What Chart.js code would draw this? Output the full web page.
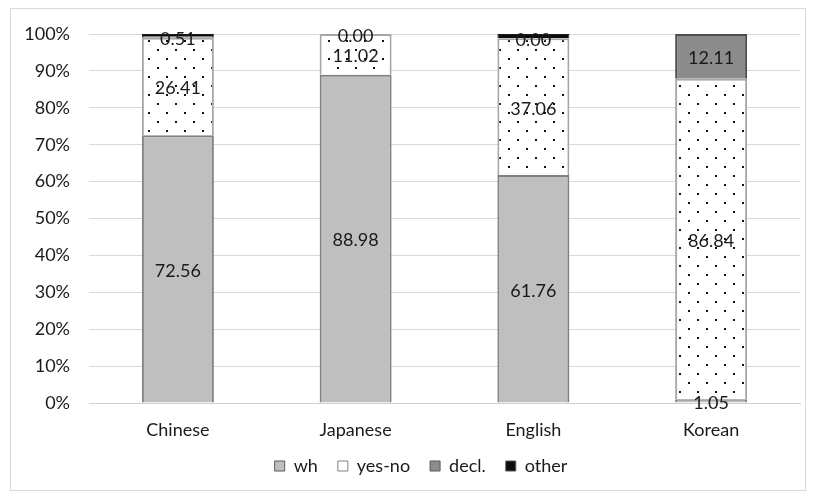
<!DOCTYPE html>
<html>
<head>
<meta charset="utf-8">
<script src="https://cdn.jsdelivr.net/npm/chart.js@4/dist/chart.umd.min.js"></script>
<style>
  html, body { margin: 0; padding: 0; background: #ffffff; }
  canvas { display: block; }
</style>
</head>
<body>
<canvas id="chart" width="815" height="501"></canvas>
<script>
// Languages along the x axis
const languages = ['Chinese', 'Japanese', 'English', 'Korean'];

// Share of each question type (percent)
const whValues     = [72.56, 88.98, 61.76, 1.05];
const yesNoValues  = [26.41, 11.02, 37.06, 86.84];
const declValues   = [0.51, 0.00, 0.00, 12.11];
const otherValues  = [0.52, 0.00, 1.18, 0.00];

// Y axis tick values
const yTicks = [0, 10, 20, 30, 40, 50, 60, 70, 80, 90, 100];

const FONT = 'Lato, "Open Sans", sans-serif';
const FONT_SIZE = 18;

// Dotted fill for the yes-no segments
function makeDots() {
  const c = document.createElement('canvas');
  c.width = 18; c.height = 18;
  const g = c.getContext('2d');
  g.fillStyle = '#ffffff';
  g.fillRect(0, 0, 18, 18);
  g.fillStyle = '#111111';
  g.fillRect(4, 4, 2, 2);
  g.fillRect(13, 13, 2, 2);
  return g.createPattern(c, 'repeat');
}
const ctx = document.getElementById('chart').getContext('2d');
const dots = makeDots();

// Outer frame around the whole chart
const framePlugin = {
  id: 'frame',
  beforeDraw(chart) {
    const c = chart.ctx;
    c.save();
    c.fillStyle = '#ffffff';
    c.fillRect(0, 0, chart.width, chart.height);
    c.strokeStyle = '#d9d9d9';
    c.lineWidth = 1;
    c.strokeRect(10.5, 8.5, 795, 482);
    c.restore();
  }
};

// Nudge the legend row right of the canvas centre and a little upward
const legendShift = {
  id: 'legendShift',
  afterLayout(chart) {
    const lg = chart.legend;
    if (lg) {
      lg.left += 21; lg.right += 21;
      lg.top -= 6; lg.bottom -= 6;
    }
  }
};

// Value labels centred in each labelled segment
const valueLabels = {
  id: 'valueLabels',
  afterDatasetsDraw(chart) {
    const c = chart.ctx;
    c.save();
    c.font = FONT_SIZE + 'px ' + FONT;
    c.fillStyle = '#1a1a1a';
    c.textAlign = 'center';
    c.textBaseline = 'middle';
    chart.data.datasets.forEach((ds, i) => {
      if (!ds.showValues) return;
      const meta = chart.getDatasetMeta(i);
      meta.data.forEach((bar, j) => {
        const v = ds.data[j];
        const y = (bar.y + bar.base) / 2;
        c.fillText(v.toFixed(2), bar.x, y + 2);
      });
    });
    c.restore();
  }
};

new Chart(ctx, {
  type: 'bar',
  data: {
    labels: languages,
    datasets: [
      { label: 'wh', data: whValues, backgroundColor: '#bfbfbf', borderColor: '#808080', borderWidth: 2, showValues: true },
      { label: 'yes-no', data: yesNoValues, backgroundColor: dots, borderColor: '#a6a6a6', borderWidth: 2, showValues: true },
      { label: 'decl.', data: declValues, backgroundColor: '#8c8c8c', borderColor: '#4d4d4d', borderWidth: 2, showValues: true },
      { label: 'other', data: otherValues, backgroundColor: '#0d0d0d', borderColor: '#1a1a1a', borderWidth: 1, showValues: false }
    ]
  },
  options: {
    responsive: false,
    animation: false,
    devicePixelRatio: 1,
    barPercentage: 0.405,
    categoryPercentage: 1,
    layout: { padding: { top: 34, right: 15, left: 0, bottom: 10 } },
    plugins: {
      tooltip: { enabled: false },
      legend: {
        position: 'bottom',
        labels: {
          color: '#1a1a1a',
          font: { family: FONT, size: FONT_SIZE },
          boxWidth: 10,
          boxHeight: 10,
          padding: 20,
          generateLabels(chart) {
            return chart.data.datasets.map((ds, i) => ({
              text: ds.label,
              fillStyle: i === 1 ? '#ffffff' : ds.backgroundColor,
              strokeStyle: i === 1 ? '#808080' : '#595959',
              lineWidth: 1,
              fontColor: '#1a1a1a',
              datasetIndex: i
            }));
          }
        }
      }
    },
    scales: {
      x: {
        stacked: true,
        grid: { display: false, drawTicks: false },
        border: { display: true, color: '#d0d0d0', width: 1 },
        ticks: { color: '#1a1a1a', font: { family: FONT, size: FONT_SIZE }, padding: 16 },
        afterFit(scale) { scale.height = 40; }
      },
      y: {
        stacked: true,
        min: 0,
        max: 100,
        afterBuildTicks(scale) { scale.ticks = yTicks.map(v => ({ value: v })); },
        grid: { color: '#d9d9d9', lineWidth: 1, drawTicks: false },
        border: { display: false },
        ticks: {
          color: '#1a1a1a',
          font: { family: FONT, size: FONT_SIZE },
          padding: 19,
          callback: v => v + '%'
        },
        afterFit(scale) { scale.width = 89; }
      }
    }
  },
  plugins: [framePlugin, legendShift, valueLabels]
});
</script>
</body>
</html>
